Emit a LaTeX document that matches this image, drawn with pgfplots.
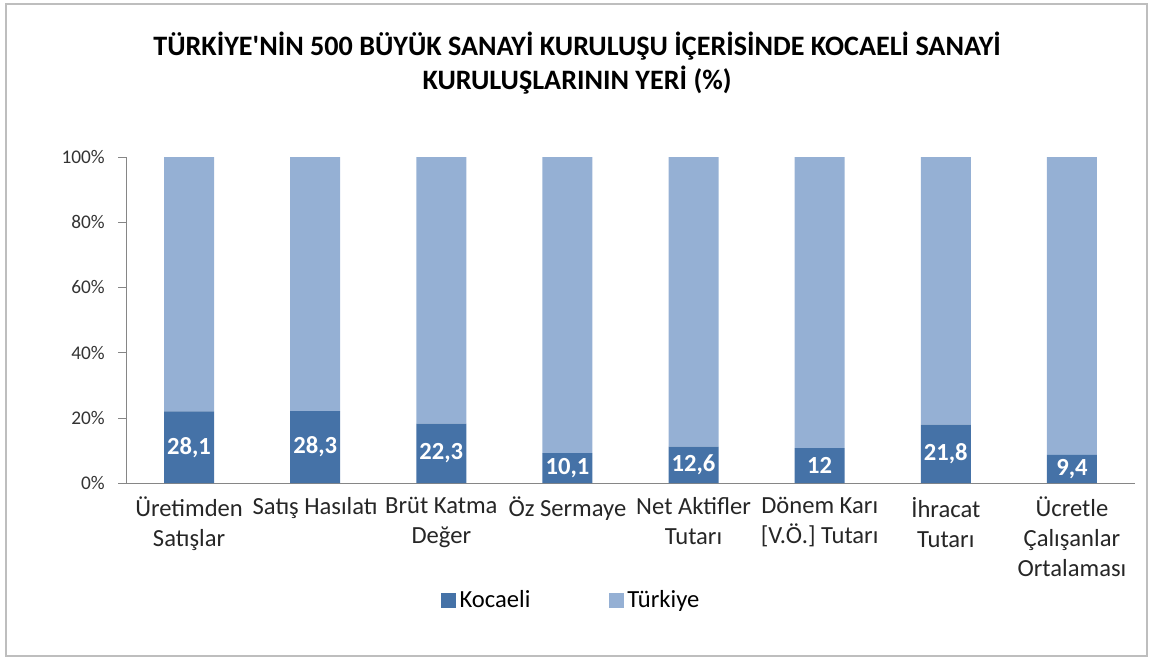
\documentclass[border=0pt]{standalone}
\usepackage{fontspec}
\setmainfont{Carlito}
\usepackage{pgfplots}
\usepackage{pgfplotstable}
\pgfplotsset{compat=1.18}
\definecolor{kocaeli}{RGB}{69,114,167}
\definecolor{turkiye}{RGB}{149,176,212}
\definecolor{axisgray}{RGB}{134,134,134}
\definecolor{framegray}{RGB}{190,190,190}

% Kocaeli degerleri, Turkiye = 100 (grafik %100 yigilmis)
\pgfplotstableread{
x k t
0 28.1 100
1 28.3 100
2 22.3 100
3 10.1 100
4 12.6 100
5 12 100
6 21.8 100
7 9.4 100
}\sanayi

\pgfplotsset{ortak/.style={
    at={(2.52cm,3.52cm)}, anchor=south west,
    scale only axis, width=20.18cm, height=6.52cm,
    bar width=1cm, xmin=-0.5, xmax=7.5, ymin=0, ymax=100,
    /pgf/number format/assume math mode=true}}

\begin{document}
\begin{tikzpicture}
\path (0,0) rectangle (23,13.18);
\draw[framegray, line width=0.8pt] (0.12,0.06) rectangle (22.94,13.1);
\node[font=\fontsize{16}{19.5}\selectfont\bfseries, align=center] at (11.54,11.92)
  {TÜRKİYE\textquotesingle NİN 500 BÜYÜK SANAYİ KURULUŞU İÇERİSİNDE KOCAELİ SANAYİ\\KURULUŞLARININ YERİ (\%)};
\begin{axis}[
    ortak, ybar stacked,
    axis x line=bottom, axis y line=left,
    axis line style={draw=axisgray, -},
    xtick={0,...,7},
    xticklabels={Üretimden\\Satışlar, Satış Hasılatı, Brüt Katma\\Değer, Öz Sermaye,
      Net Aktifler\\Tutarı, Dönem Karı\\{[V.Ö.]} Tutarı, İhracat\\Tutarı, Ücretle\\Çalışanlar\\Ortalaması},
    xticklabel style={align=center, font=\fontsize{14}{17}\selectfont, text=black!85},
    x tick style={draw=none},
    extra x ticks={-0.5,0.5,...,7.5},
    extra x tick labels={},
    extra x tick style={tick style={draw=axisgray}, major tick length=0.14cm, tick align=outside},
    ytick={0,20,...,100},
    yticklabel={\pgfmathprintnumber{\tick}\%},
    yticklabel style={font=\fontsize{11}{13}\selectfont, text=black!80, xshift=-0.14cm},
    y tick style={draw=axisgray},
    major tick length=0.16cm, tick align=outside,
    legend columns=2,
    legend style={at={(0.442,-0.359)}, anchor=center, draw=none, fill=none,
      font=\fontsize{14}{17}\selectfont,
      /tikz/every even column/.append style={column sep=1.5cm}},
    legend image code/.code={\fill[#1] (0cm,-0.15cm) rectangle (0.3cm,0.15cm);},
]
\addplot[fill=kocaeli, draw=none]
  table[x=x, y expr={\thisrow{k}/(\thisrow{k}+\thisrow{t})*100}] {\sanayi};
\addlegendentry{Kocaeli}
\addplot[fill=turkiye, draw=none]
  table[x=x, y expr={\thisrow{t}/(\thisrow{k}+\thisrow{t})*100}] {\sanayi};
\addlegendentry{Türkiye}
\end{axis}
% etiketler: Kocaeli diliminin ortasina
\begin{axis}[ortak, ybar, hide axis]
\addplot[draw=none, fill=none, point meta=explicit,
    nodes near coords={\pgfmathprintnumber[use comma, fixed, precision=1]{\pgfplotspointmeta}},
    every node near coord/.append style={anchor=center,
      font=\fontsize{14}{17}\selectfont\bfseries, text=white}]
  table[x=x, y expr={\thisrow{k}/(\thisrow{k}+\thisrow{t})*50}, meta=k] {\sanayi};
\end{axis}
\end{tikzpicture}
\end{document}
